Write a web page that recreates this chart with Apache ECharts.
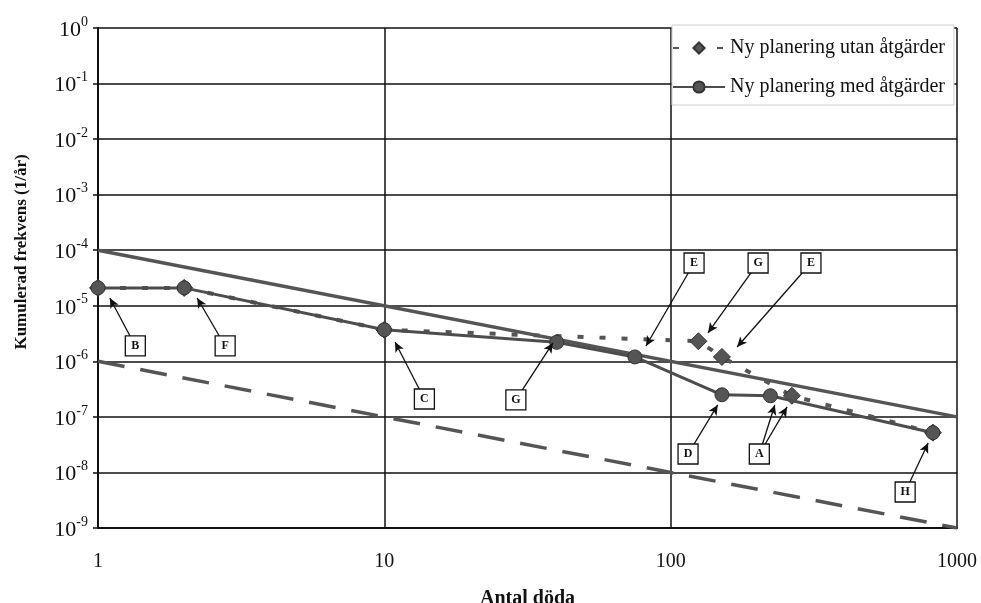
<!DOCTYPE html>
<html lang="sv">
<head>
    <meta charset="UTF-8">
    <title>Kumulerad frekvens</title>
    <script src="https://cdn.jsdelivr.net/npm/echarts@6/dist/echarts.min.js"></script>
    <style>
        html, body {
            margin: 0;
            padding: 0;
            background: #fff;
        }

        #main {
            width: 981px;
            height: 603px;
        }
    </style>
</head>
<body>
<div id="main"></div>

<script type="text/javascript">
    // antal döda / kumulerad frekvens
    var utanX = [1, 2, 10, 125, 151, 265, 824];
    var utanY = [2.1e-5, 2.1e-5, 3.7e-6, 2.3e-6, 1.2e-6, 2.4e-7, 5.2e-8];
    var medX = [1, 2, 10, 40, 75, 151, 223, 824];
    var medY = [2.1e-5, 2.1e-5, 3.7e-6, 2.2e-6, 1.2e-6, 2.5e-7, 2.4e-7, 5.2e-8];

    // kriterielinjer
    var kritX = [1, 1000];
    var kritOvreY = [1e-4, 1e-7];
    var kritUndreY = [1e-6, 1e-9];

    // bokstavsrutor (data-koordinater)
    var rutaText = ['B', 'F', 'C', 'G', 'E', 'G', 'E', 'D', 'A', 'H'];
    var rutaX = [1.35, 2.78, 13.8, 28.8, 120.7, 202, 309, 115, 204, 659];
    var rutaY = [1.89e-6, 1.89e-6, 2.1e-7, 2.02e-7, 5.89e-5, 5.89e-5, 5.89e-5, 2.15e-8, 2.15e-8, 4.45e-9];

    // pilar: index till ruta -> spets
    var pilRuta = [0, 1, 2, 3, 4, 5, 6, 7, 8, 8, 9];
    var pilX = [1.10, 2.22, 10.9, 38.8, 82.0, 135, 170.6, 146, 231, 255, 793];
    var pilY = [1.38e-5, 1.38e-5, 2.23e-6, 2.14e-6, 1.89e-6, 3.24e-6, 1.81e-6, 1.64e-7, 1.64e-7, 1.51e-7, 3.39e-8];

    function zip(xs, ys) {
        return xs.map(function (x, i) {
            return [x, ys[i]];
        });
    }

    var serif = 'Liberation Serif';

    var pilData = pilRuta.map(function (r, i) {
        return [{coord: [rutaX[r], rutaY[r]]}, {coord: [pilX[i], pilY[i]]}];
    });
    var rutaData = rutaText.map(function (t, i) {
        return {coord: [rutaX[i], rutaY[i]], value: t};
    });

    var myChart = echarts.init(document.getElementById('main'));

    var option = {
        animation: false,
        backgroundColor: '#fff',
        textStyle: {fontFamily: serif},
        grid: {left: 98, right: 24, top: 28, bottom: 75, containLabel: false, outerBoundsMode: 'none'},
        legend: {
            data: ['Ny planering utan åtgärder', 'Ny planering med åtgärder'],
            orient: 'vertical',
            left: 672,
            top: 25,
            padding: [13, 9, 8, 0],
            itemGap: 19,
            itemWidth: 52,
            itemHeight: 14,
            backgroundColor: '#fff',
            borderColor: '#d0d0d0',
            borderWidth: 1,
            textStyle: {fontFamily: serif, fontSize: 20, color: '#111', lineHeight: 20}
        },
        xAxis: {
            type: 'log',
            logBase: 10,
            min: 1,
            max: 1000,
            name: 'Antal döda',
            nameLocation: 'middle',
            nameGap: 61,
            nameTextStyle: {fontFamily: serif, fontSize: 20, fontWeight: 'bold', color: '#111'},
            axisLine: {lineStyle: {color: '#111', width: 2}},
            axisTick: {show: false},
            axisLabel: {
                margin: 24,
                fontFamily: serif,
                fontSize: 20,
                color: '#111',
                formatter: function (v) {
                    return String(Math.round(v));
                }
            },
            splitLine: {show: true, lineStyle: {color: '#111', width: 1.5}}
        },
        yAxis: {
            type: 'log',
            logBase: 10,
            min: 1e-9,
            max: 1,
            name: 'Kumulerad frekvens (1/år)',
            nameLocation: 'middle',
            nameGap: 68,
            nameTextStyle: {
                fontFamily: serif,
                fontSize: 17,
                fontWeight: 'bold',
                color: '#111',
                padding: [0, 0, 0, 52]
            },
            axisLine: {show: true, lineStyle: {color: '#111', width: 2}},
            axisTick: {show: true, length: 5, lineStyle: {color: '#111', width: 1.5}},
            axisLabel: {
                margin: 10,
                formatter: function (v) {
                    var e = Math.round(Math.log10(v));
                    return '{b|10}{e|' + String(e) + '}';
                },
                rich: {
                    b: {fontFamily: serif, fontSize: 22, color: '#111', lineHeight: 26, verticalAlign: 'bottom'},
                    e: {fontFamily: serif, fontSize: 14, color: '#111', lineHeight: 14, verticalAlign: 'top'}
                }
            },
            splitLine: {show: true, lineStyle: {color: '#111', width: 1.5}}
        },
        series: [
            {
                name: 'kriterie övre',
                type: 'line',
                silent: true,
                symbol: 'none',
                data: zip(kritX, kritOvreY),
                lineStyle: {color: '#555', width: 3.5},
                z: 2
            },
            {
                name: 'kriterie undre',
                type: 'line',
                silent: true,
                symbol: 'none',
                data: zip(kritX, kritUndreY),
                lineStyle: {color: '#555', width: 3.5, type: [27, 16]},
                z: 2
            },
            {
                name: 'Ny planering utan åtgärder',
                type: 'line',
                data: zip(utanX, utanY),
                symbol: 'diamond',
                symbolSize: 17,
                lineStyle: {color: '#555', width: 4, type: [6, 16]},
                itemStyle: {color: '#555', borderColor: '#333', borderWidth: 1},
                z: 3
            },
            {
                name: 'Ny planering med åtgärder',
                type: 'line',
                data: zip(medX, medY),
                symbol: 'circle',
                symbolSize: 14,
                lineStyle: {color: '#4d4d4d', width: 3},
                itemStyle: {color: '#555', borderColor: '#333', borderWidth: 1},
                z: 4
            },
            {
                name: 'pilar',
                type: 'line',
                data: [],
                silent: true,
                markLine: {
                    silent: true,
                    symbol: ['none', 'arrow'],
                    symbolSize: [7, 10],
                    label: {show: false},
                    lineStyle: {color: '#111', width: 1.3, type: 'solid'},
                    data: pilData
                },
                z: 5
            },
            {
                name: 'rutor',
                type: 'line',
                data: [],
                silent: true,
                markPoint: {
                    silent: true,
                    symbol: 'rect',
                    symbolSize: [20, 20],
                    itemStyle: {color: '#fff', borderColor: '#111', borderWidth: 1.3},
                    label: {
                        show: true,
                        position: 'inside',
                        formatter: '{c}',
                        fontFamily: serif,
                        fontWeight: 'bold',
                        fontSize: 12,
                        color: '#111'
                    },
                    data: rutaData
                },
                z: 6
            }
        ]
    };

    myChart.setOption(option);
</script>

</body>
</html>
